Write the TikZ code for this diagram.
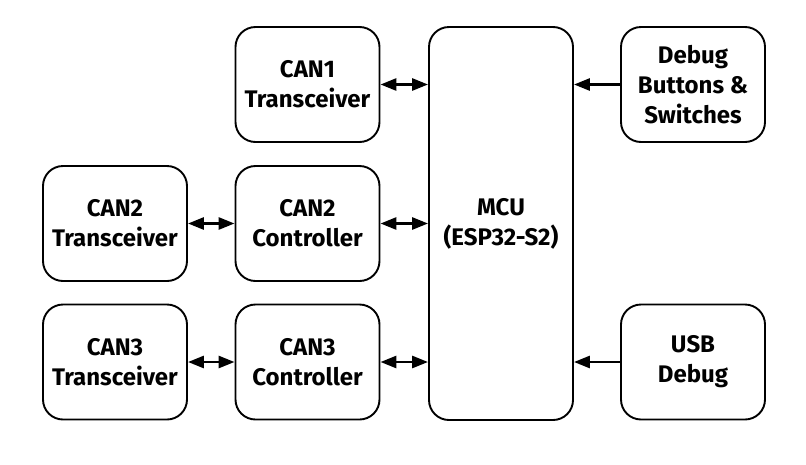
\documentclass[tikz,border=0pt]{standalone}
\usepackage{fontspec}
\setmainfont{Fira Sans}
\usetikzlibrary{arrows.meta}
\begin{document}
\begin{tikzpicture}[x=1pt,y=-1pt,
  box/.style={draw, line width=1.9pt, rounded corners=20pt, minimum width=144pt, minimum height=115pt, align=center, inner sep=0pt, font=\fontsize{24}{30}\selectfont\bfseries},
  tipa/.tip={Triangle[length=16pt,width=12pt]},
  link/.style={line width=2.8pt, -tipa},
  blink/.style={line width=2.8pt, tipa-tipa}]
\useasboundingbox (0,0) rectangle (806,464);
\node[box] (can1t) at (307.5,84.5) {CAN1\\Transceiver};
\node[box] (can2t) at (115,223.5) {CAN2\\Transceiver};
\node[box] (can2c) at (307.5,223.5) {CAN2\\Controller};
\node[box] (can3t) at (115,362) {CAN3\\Transceiver};
\node[box] (can3c) at (307.5,362) {CAN3\\Controller};
\node[box, minimum height=393pt] (mcu) at (501,223.5) {MCU\\(ESP32-S2)};
\node[box] (dbg) at (693,84.5) {Debug\\Buttons \&\\Switches};
\node[box] (usb) at (693,362) {USB\\Debug};
\draw[blink] (can1t.east) -- (can1t.east -| mcu.west);
\draw[blink] (can2c.east) -- (can2c.east -| mcu.west);
\draw[blink] (can3c.east) -- (can3c.east -| mcu.west);
\draw[blink] (can2t.east) -- (can2c.west);
\draw[blink] (can3t.east) -- (can3c.west);
\draw[link] (dbg.west) -- (dbg.west -| mcu.east);
\draw[link] (usb.west) -- (usb.west -| mcu.east);
\end{tikzpicture}
\end{document}
